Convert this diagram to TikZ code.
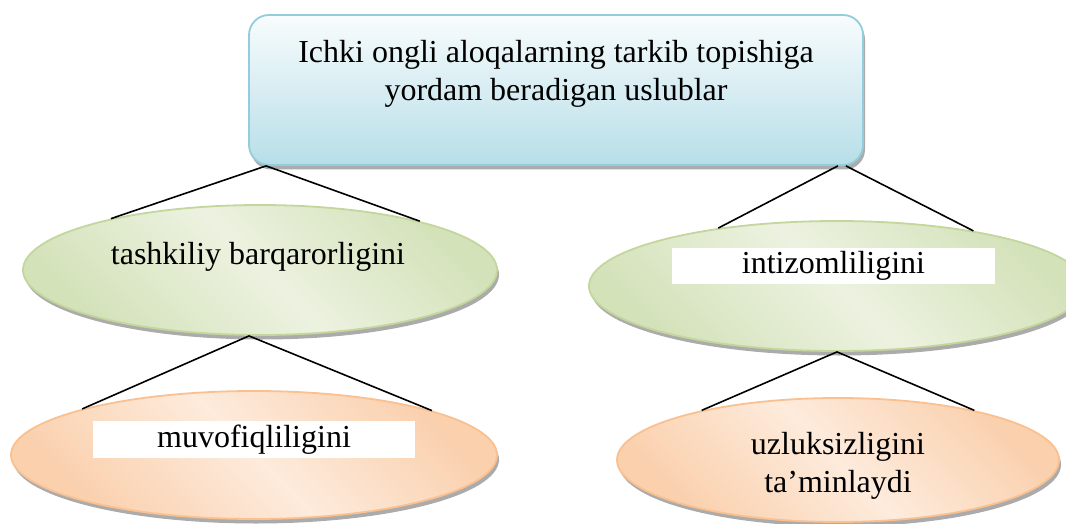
\documentclass[tikz,border=0pt]{standalone}
\usepackage{fontspec}
\setmainfont{Liberation Serif}
\usetikzlibrary{shapes.geometric,shadows}
\definecolor{blueTop}{RGB}{248,252,253}
\definecolor{blueBot}{RGB}{183,222,232}
\definecolor{blueLine}{RGB}{147,205,221}
\definecolor{grnDark}{RGB}{212,226,186}
\definecolor{grnLight}{RGB}{236,242,224}
\definecolor{grnLine}{RGB}{195,214,155}
\definecolor{orgDark}{RGB}{250,208,173}
\definecolor{orgLight}{RGB}{253,235,220}
\definecolor{orgLine}{RGB}{250,192,144}
\pgfdeclarehorizontalshading{grnshade}{100bp}{color(0bp)=(grnDark); color(25bp)=(grnDark); color(50bp)=(grnLight); color(75bp)=(grnDark); color(100bp)=(grnDark)}
\pgfdeclarehorizontalshading{orgshade}{100bp}{color(0bp)=(orgDark); color(25bp)=(orgDark); color(50bp)=(orgLight); color(75bp)=(orgDark); color(100bp)=(orgDark)}
\tikzset{
  txt/.style={font=\fontsize{32}{38.5}\selectfont, align=center, inner sep=0pt},
  shad/.style={drop shadow={shadow xshift=2pt, shadow yshift=-4.5pt, fill=black!55, opacity=0.6}},
  topbox/.style={draw=blueLine, line width=1.8pt, rounded corners=20pt, top color=blueTop, bottom color=blueBot, minimum width=614pt, minimum height=150pt, shad},
  gell/.style={ellipse, draw=grnLine, line width=1.8pt, shade, shading=grnshade, shading angle=45, inner sep=0pt, shad},
  oell/.style={ellipse, draw=orgLine, line width=1.8pt, shade, shading=orgshade, shading angle=45, inner sep=0pt, shad},
  wbox/.style={txt, fill=white},
  conn/.style={draw=black, line width=1.6pt}
}
\begin{document}
\begin{tikzpicture}[x=1pt,y=-1pt]
\useasboundingbox (0,0) rectangle (1066,524);
\node[topbox] (top) at (556,90) {};
\node[txt] (toptext) at (556,74) {Ichki ongli aloqalarning tarkib topishiga\\yordam beradigan uslublar};

\node[gell, minimum width=474pt, minimum height=130pt] (e1) at (260,270) {};
\node[gell, minimum width=496pt, minimum height=130pt] (e2) at (837,286) {};
\node[oell, minimum width=486pt, minimum height=128pt] (e3) at (254,455) {};
\node[oell, minimum width=442pt, minimum height=124pt] (e4) at (838,460) {};

\node[txt, anchor=base] (t1) at (258,264) {tashkiliy barqarorligini};
\node[wbox, minimum width=323pt, minimum height=36pt] (t2) at (833.5,266) {intizomliligini};
\node[wbox, minimum width=322pt, minimum height=37pt] (t3) at (254,439.5) {muvofiqliligini};
\node[txt] (t4) at (838,466) {uzluksizligini\\ta’minlaydi};

\draw[conn] ([xshift=18pt]top.south west) -- (e1.161.8);
\draw[conn] ([xshift=18pt]top.south west) -- (e1.17.6);
\draw[conn] ([xshift=-26pt]top.south east) -- (e2.154.2);
\draw[conn] ([xshift=-18pt]top.south east) -- (e2.22.5);
\draw[conn] ([xshift=-11pt]e1.south) -- (e3.165);
\draw[conn] ([xshift=-11pt]e1.south) -- (e3.14.5);
\draw[conn] (e2.south) -- (e4.160.3);
\draw[conn] (e2.south) -- (e4.20.4);
\end{tikzpicture}
\end{document}
